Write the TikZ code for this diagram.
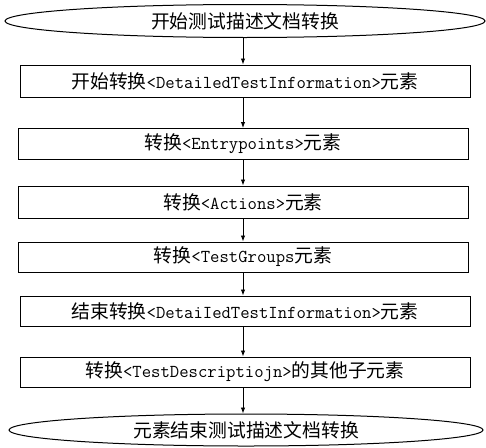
\documentclass[tikz,border=0pt]{standalone}
\usepackage{fontspec}
\newfontfamily\cjk{Noto Sans CJK SC}
\usetikzlibrary{shapes.geometric}
\usetikzlibrary{arrows.meta}
\newcommand{\tagname}[1]{{\ttfamily\fontsize{18.2}{22}\selectfont #1}}

\begin{document}
\begin{tikzpicture}[x=1pt, y=-1pt,
	font=\cjk\fontsize{18.8}{22}\selectfont,
	stepbox/.style={draw, line width=1pt, minimum width=450pt, minimum height=31pt, inner sep=0pt},
	endpoint/.style={draw, ellipse, line width=1pt, inner sep=0pt},
	flow/.style={-{Latex[length=6pt,width=4.5pt]}, line width=0.9pt}]
	\useasboundingbox (0,0) rectangle (486,447);
	% start and end of the conversion
	\node[endpoint, minimum width=480pt, minimum height=33pt] (start) at (245,21) {开始测试描述文档转换};
	\node[endpoint, minimum width=474pt, minimum height=32pt] (stop) at (246,430) {元素结束测试描述文档转换};
	% the steps
	\node[stepbox, minimum height=32pt] (detail) at (245,81) {开始转换\tagname{<DetailedTestInformation>}元素};
	\node[stepbox] (entry) at (243,144) {转换\tagname{<Entrypoints>}元素};
	\node[stepbox, minimum height=32pt] (actions) at (243,202) {转换\tagname{<Actions>}元素};
	\node[stepbox, minimum height=30pt] (groups) at (243,257) {转换\tagname{<TestGroups}元素};
	\node[stepbox, minimum height=30pt] (enddetail) at (245,311) {结束转换\tagname{<DetaiIedTestInformation>}元素};
	\node[stepbox, minimum height=30pt] (others) at (245,372) {转换\tagname{<TestDescriptiojn>}的其他子元素};
	\draw[flow] (start.south -| 243,0) -- (detail.north -| 243,0);
	\draw[flow] (detail.south -| 243,0) -- (entry.north -| 243,0);
	\draw[flow] (entry.south -| 243,0) -- (actions.north -| 243,0);
	\draw[flow] (actions.south -| 243,0) -- (groups.north -| 243,0);
	\draw[flow] (groups.south -| 243,0) -- (enddetail.north -| 243,0);
	\draw[flow] (enddetail.south -| 243,0) -- (others.north -| 243,0);
	\draw[flow] (others.south -| 243,0) -- (stop.north -| 243,0);
\end{tikzpicture}
\end{document}
